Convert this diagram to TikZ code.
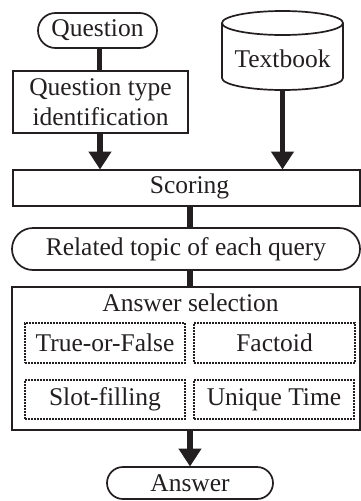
\documentclass[tikz,border=0pt]{standalone}
\usepackage{fontspec}
\setmainfont{Liberation Serif}
\usetikzlibrary{arrows.meta,shapes.misc}
\definecolor{ink}{HTML}{231F20}
\begin{document}
\begin{tikzpicture}[x=1pt,y=-1pt,
  every node/.style={text=ink,font=\fontsize{25.5}{29.5}\selectfont,inner sep=0pt},
  box/.style={draw=ink,line width=1.7pt,rectangle},
  pill/.style={draw=ink,line width=1.7pt,rounded rectangle},
  dotbox/.style={draw=ink,line width=1.7pt,dash pattern=on 1.6pt off 1.4pt,rectangle},
  conn/.style={draw=ink,line width=5.5pt},
  arr/.style={draw=ink,line width=5.5pt,-{Triangle[length=18pt,width=22pt]}}]
\useasboundingbox (0,0) rectangle (361,501);
% nodes
\node[pill,minimum width=119pt,minimum height=35pt] (q) at (97.5,30.5) {Question};
\node[box,minimum width=175pt,minimum height=62pt,align=center] (qti) at (100.5,102) {Question type\\identification};
% cylinder
\node[minimum width=121pt,minimum height=79pt] (tb) at (282.5,50.5) {};
\draw[ink,line width=1.7pt,fill=white] (222,23) -- (222,78) arc[start angle=180,end angle=360,x radius=60.5pt,y radius=12pt] -- (343,23);
\draw[ink,line width=1.7pt] (282.5,23) ellipse[x radius=60.5pt,y radius=12pt];
\node at (282.5,59) {Textbook};
\node[box,minimum width=347pt,minimum height=36pt] (sc) at (186.5,188) {\hspace*{6pt}Scoring};
\node[pill,minimum width=348pt,minimum height=42pt] (rt) at (186,249) {Related topic of each query};
\node[box,minimum width=348pt,minimum height=143pt] (as) at (186,358.5) {};
\node (ast) at (190.5,303) {Answer selection};
\node[dotbox,minimum width=160pt,minimum height=40pt] (tf) at (105,343) {True-or-False};
\node[dotbox,minimum width=161pt,minimum height=40pt] (fa) at (274.5,343) {Factoid};
\node[dotbox,minimum width=160pt,minimum height=39pt] (sf) at (105,399.5) {Slot-filling};
\node[dotbox,minimum width=160pt,minimum height=39pt] (ut) at (274,399.5) {Unique Time};
\node[pill,minimum width=166pt,minimum height=32pt] (an) at (190,483) {Answer};
% connectors
\draw[conn] (99.5,0 |- q.south) -- (99.5,0 |- qti.north);
\draw[arr] (qti.south -| 100,0) -- (100,169.5);
\draw[arr] (tb.south) -- (282.5,169.5);
\draw[conn] (190,0 |- sc.south) -- (190,0 |- rt.north);
\draw[conn] (190,0 |- rt.south) -- (190,0 |- as.north);
\draw[arr] (190,0 |- as.south) -- (190,466.5);
\end{tikzpicture}
\end{document}
